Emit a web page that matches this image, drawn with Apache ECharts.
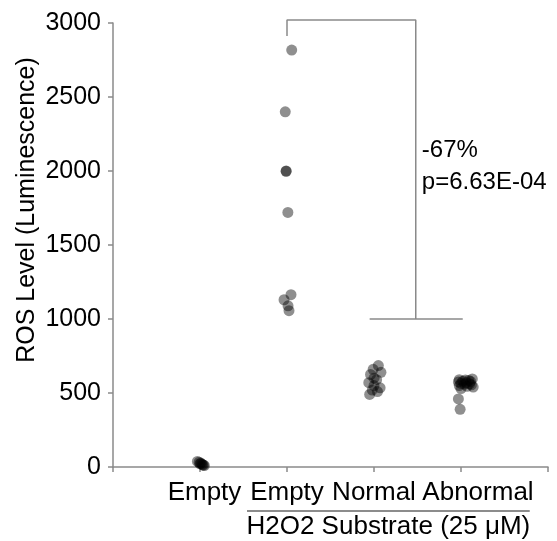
<!DOCTYPE html>
<html>
<head>
<meta charset="utf-8">
<script src="https://cdn.jsdelivr.net/npm/echarts@6/dist/echarts.min.js"></script>
<style>
  html, body { margin: 0; padding: 0; background: #fff; }
  #chart { width: 557px; height: 541px; }
</style>
</head>
<body>
<div id="chart"></div>
<script>
    // groups on the x axis (positions 1..4)
    var categories = ['Empty', 'Empty', 'Normal', 'Abnormal'];
    var groupTitle = 'H2O2 Substrate (25 \u03bcM)';
    var yTicks = [0, 500, 1000, 1500, 2000, 2500, 3000];

    // readings per group, with the small horizontal jitter seen in the picture
    var emptyNoH2O2 = [38, 32, 26, 22, 20, 15, 12, 10];
    var emptyNoH2O2Jit = [-0.03, -0.01, 0.01, 0.0, 0.02, 0.03, 0.04, 0.05];
    var emptyH2O2 = [2817, 2400, 2000, 1998, 1720, 1164, 1130, 1089, 1056];
    var emptyH2O2Jit = [0.054, -0.02, -0.01, -0.01, 0.01, 0.046, -0.034, 0.012, 0.023];
    var normal = [685, 660, 640, 625, 600, 590, 570, 550, 535, 520, 510, 490];
    var normalJit = [0.05, -0.01, 0.08, -0.04, 0.0, 0.03, -0.06, 0.0, 0.07, -0.02, 0.04, -0.05];
    var abnormal = [595, 590, 588, 585, 580, 578, 575, 570, 565, 562, 560, 555, 550, 545, 540, 530, 460, 390];
    var abnormalJit = [0.13, -0.02, 0.05, 0.09, 0.02, 0.11, -0.03, 0.06, 0.0, 0.10, 0.04, 0.12, -0.02, 0.07, 0.14, 0.0, -0.03, -0.01];

    // comparison bracket (Empty vs Normal/Abnormal)
    var bracketTop = [[2, 2912], [2, 3020], [3.48, 3020], [3.48, 1000]];
    var bracketFoot = [[2.95, 1000], [4.02, 1000]];
    var statText = ['-67%', 'p=6.63E-04'];

    var FONT = "'Liberation Sans', Arial, sans-serif";
    var DOT = 'rgba(0,0,0,0.55)';

    function pts(pos, vals, jit) {
        var out = [];
        for (var i = 0; i < vals.length; i++) {
            out.push([pos + jit[i], vals[i]]);
        }
        return out;
    }

    function dots(pos, vals, jit) {
        return {
            type: 'scatter',
            data: pts(pos, vals, jit),
            symbolSize: 11,
            itemStyle: { color: DOT },
            z: 3
        };
    }

    function bracket(data) {
        return {
            type: 'line',
            data: data,
            symbol: 'none',
            clip: false,
            lineStyle: { color: '#8a8a8a', width: 1.5 },
            z: 2
        };
    }

    var myChart = echarts.init(document.getElementById('chart'));
    var option = {
        animation: false,
        grid: { left: 113, right: 9, top: 23, bottom: 74, containLabel: false, outerBoundsMode: 'none' },
        xAxis: {
            type: 'value',
            min: 0, max: 5, interval: 1,
            splitLine: { show: false },
            axisLine: { show: true, lineStyle: { color: '#8a8a8a', width: 1.5 } },
            axisTick: { show: true, length: 5, lineStyle: { color: '#8a8a8a', width: 1.5 } },
            axisLabel: {
                margin: 13,
                fontSize: 26,
                fontFamily: FONT,
                color: '#000',
                formatter: function (v) {
                    var c = categories[v - 1];
                    if (!c) return '';
                    if (v === 1) return '{a|' + c + '}';
                    if (v === 4) return '{b|' + c + '}';
                    return c;
                },
                rich: {
                    a: { fontSize: 26, fontFamily: FONT, color: '#000', padding: [0, 0, 0, 9] },
                    b: { fontSize: 26, fontFamily: FONT, color: '#000', padding: [0, 0, 0, 34] }
                }
            }
        },
        yAxis: {
            type: 'value',
            min: yTicks[0], max: yTicks[yTicks.length - 1], interval: 500,
            splitLine: { show: false },
            axisLine: { show: true, lineStyle: { color: '#8a8a8a', width: 1.5 } },
            axisTick: { show: true, length: 5, lineStyle: { color: '#8a8a8a', width: 1.5 } },
            axisLabel: {
                margin: 12, fontSize: 25, fontFamily: FONT, color: '#000',
                formatter: function (v) { return String(v); }
            }
        },
        series: [
            bracket(bracketTop),
            bracket(bracketFoot),
            dots(1, emptyNoH2O2, emptyNoH2O2Jit),
            dots(2, emptyH2O2, emptyH2O2Jit),
            dots(3, normal, normalJit),
            dots(4, abnormal, abnormalJit)
        ]
    };
    myChart.setOption(option);

    // annotations placed through the chart's own scales
    var lineL = myChart.convertToPixel('grid', [1.54, 0]);
    var lineR = myChart.convertToPixel('grid', [4.79, 0]);
    var statPos = myChart.convertToPixel('grid', [3.55, 2030]);
    myChart.setOption({
        graphic: [
            {
                type: 'text', x: 27, y: 210, rotation: Math.PI / 2,
                style: { text: 'ROS Level (Luminescence)', font: '25px ' + FONT, fill: '#000', align: 'center', verticalAlign: 'middle' }
            },
            {
                type: 'line',
                shape: { x1: lineL[0], y1: 511, x2: lineR[0], y2: 511 },
                style: { stroke: '#666', lineWidth: 1.5 }
            },
            {
                type: 'text', x: (lineL[0] + lineR[0]) / 2, y: 527,
                style: { text: groupTitle, font: '26px ' + FONT, fill: '#000', align: 'center', verticalAlign: 'middle' }
            },
            {
                type: 'text', x: statPos[0], y: statPos[1],
                style: { text: statText.join('\n'), font: '24px ' + FONT, lineHeight: 32, fill: '#000', align: 'left', verticalAlign: 'middle' }
            }
        ]
    });
</script>
</body>
</html>
